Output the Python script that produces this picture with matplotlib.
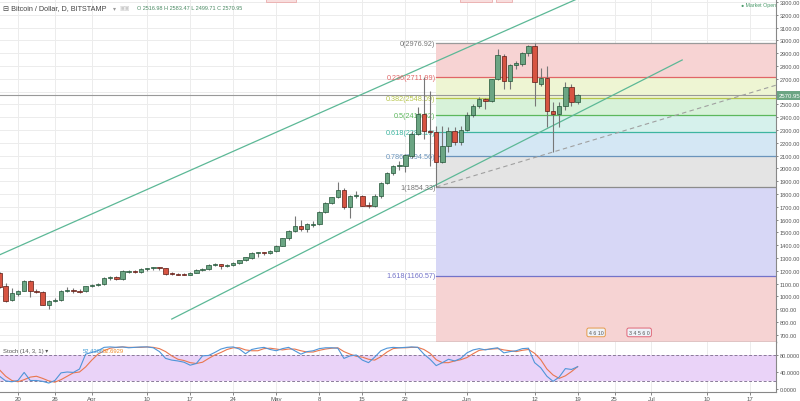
import matplotlib
matplotlib.use('Agg')
import matplotlib.pyplot as plt
import matplotlib.dates as mdates
from matplotlib.patches import Rectangle
import numpy as np
import pandas as pd

plt.rcParams['font.family'] = ['Liberation Sans', 'DejaVu Sans']

# ---------------- data ----------------
dates = pd.date_range('2017-03-17', '2017-06-19', freq='D')

opens = [1180, 1081, 972, 1019, 1043, 1121, 1043, 1035, 935, 964,
         975, 1045, 1048, 1042, 1040, 1080, 1088, 1095, 1145, 1148,
         1135, 1195, 1200, 1192, 1212, 1218, 1226, 1220, 1178, 1175,
         1173, 1170, 1185, 1208, 1214, 1245, 1250, 1240, 1245, 1260,
         1282, 1300, 1338, 1342, 1340, 1355, 1395, 1455, 1510, 1550,
         1523, 1562, 1567, 1659, 1730, 1777, 1834, 1699, 1785, 1787,
         1712, 1710, 1787, 1885, 1964, 2020, 2022, 2100, 2268, 2425,
         2290, 2282, 2050, 2178, 2295, 2206, 2303, 2417, 2490, 2542,
         2530, 2698, 2880, 2680, 2808, 2816, 2902, 2954, 2659, 2706,
         2451, 2425, 2490, 2636, 2516.98]
highs = [1190, 1105, 1065, 1050, 1125, 1125, 1060, 1040, 975, 990,
         1050, 1075, 1065, 1055, 1085, 1095, 1105, 1150, 1160, 1160,
         1210, 1210, 1210, 1218, 1222, 1230, 1230, 1225, 1190, 1185,
         1185, 1190, 1215, 1220, 1250, 1260, 1255, 1255, 1265, 1285,
         1310, 1345, 1350, 1350, 1360, 1400, 1460, 1515, 1630, 1600,
         1570, 1590, 1670, 1740, 1780, 1896, 1845, 1795, 1820, 1795,
         1740, 1800, 1890, 1970, 2030, 2060, 2110, 2290, 2480, 2714,
         2607, 2330, 2330, 2320, 2320, 2330, 2440, 2500, 2560, 2550,
         2700, 2933, 2890, 2815, 2840, 2910, 2965, 2976.92, 2784, 2798,
         2521, 2520, 2677, 2660, 2583.47]
lows = [1065, 955, 965, 1005, 1040, 995, 1025, 930, 905, 955,
        965, 1035, 1030, 1025, 1038, 1075, 1080, 1090, 1125, 1125,
        1130, 1180, 1185, 1185, 1200, 1210, 1210, 1170, 1165, 1168,
        1165, 1165, 1180, 1195, 1210, 1235, 1215, 1230, 1240, 1250,
        1278, 1295, 1310, 1325, 1330, 1350, 1390, 1440, 1500, 1510,
        1500, 1545, 1560, 1650, 1720, 1765, 1680, 1612, 1770, 1705,
        1690, 1700, 1770, 1880, 1950, 1990, 1972, 2080, 2260, 2230,
        2022, 1854.33, 2040, 2130, 2180, 2185, 2290, 2400, 2470, 2464,
        2520, 2690, 2620, 2620, 2780, 2800, 2880, 2490, 2640, 2323,
        2128, 2323, 2460, 2490, 2499.71]
closes = [1075, 964, 1027, 1043, 1121, 1043, 1035, 935, 964, 975,
          1045, 1048, 1042, 1038, 1080, 1088, 1095, 1145, 1148, 1135,
          1200, 1200, 1192, 1212, 1218, 1226, 1220, 1178, 1175, 1173,
          1170, 1185, 1208, 1214, 1245, 1250, 1240, 1245, 1260, 1282,
          1305, 1338, 1342, 1340, 1355, 1395, 1455, 1510, 1550, 1525,
          1565, 1567, 1659, 1730, 1777, 1834, 1699, 1785, 1792, 1709,
          1708, 1787, 1885, 1964, 2022, 2025, 2104, 2268, 2425, 2295,
          2282, 2050, 2178, 2295, 2210, 2303, 2417, 2490, 2542, 2530,
          2698, 2885, 2685, 2808, 2823, 2902, 2954, 2672, 2706, 2451,
          2425, 2487, 2636, 2518, 2570.95]

stoch_k = [30, 19, 17, 20, 39, 20, 20, 18, 14, 20,
           38, 40, 39, 47, 82, 86, 90, 98, 99, 98,
           99, 97, 98, 99, 99, 97, 88, 72, 68, 66,
           63, 56, 60, 78, 79, 86, 94, 98, 99, 94,
           83, 93, 96, 98, 93, 90, 95, 98, 90, 82,
           88, 90, 95, 97, 97, 96, 72, 78, 80, 68,
           62, 75, 90, 96, 98, 97, 98, 99, 98, 82,
           70, 55, 62, 70, 66, 72, 85, 92, 95, 92,
           95, 97, 85, 88, 90, 95, 96, 62, 50, 30,
           18, 28, 48, 46, 52.4366]
stoch_d = [45, 30, 20, 17, 22, 28, 30, 25, 19, 16,
           22, 30, 38, 40, 52, 68, 82, 90, 96, 98,
           99, 98, 98, 98, 99, 98, 95, 88, 78, 70,
           67, 62, 60, 63, 72, 80, 86, 93, 97, 97,
           92, 90, 90, 95, 96, 94, 92, 94, 94, 90,
           87, 87, 91, 94, 96, 97, 88, 82, 77, 75,
           70, 68, 76, 87, 95, 97, 97, 98, 98, 93,
           84, 69, 62, 62, 66, 69, 74, 83, 91, 93,
           94, 95, 92, 90, 88, 91, 93, 84, 69, 47,
           33, 25, 31, 41, 52.6929]

fib_ratios = [0, 0.236, 0.382, 0.5, 0.618, 0.786, 1, 1.618, 2.618]
fib_high = 2976.92
fib_low = 1854.33
fib_start = '2017-05-27'
fib_fills = ['#f7d3d3', '#eef5d3', '#d7f2d9', '#d6f1ec', '#d4e7f4',
             '#e4e4e4', '#d7d7f6', '#f6d3d3']
fib_lines = ['#9a9a9a', '#e06666', '#b6c54a', '#5cb85c', '#3db5a0',
             '#6a94bb', '#8c8c8c', '#7373c9', '#e06666']

# drawing-tool anchors (date, price)
upper_line = [('2017-03-15', 1282), ('2017-06-20', 3347)]
lower_line = [('2017-04-14', 823), ('2017-07-06', 2847)]
dashed_line = [('2017-05-27', 1854.33), ('2017-06-15', 2128)]

events = [('2017-06-22', '4 6 10', '#e69a4a'), ('2017-06-29', '3 4 5 6 0', '#e06677')]

x_ticks = ['2017-03-20', '2017-03-26', '2017-04-01', '2017-04-10', '2017-04-17',
           '2017-04-24', '2017-05-01', '2017-05-08', '2017-05-15', '2017-05-22',
           '2017-06-01', '2017-06-12', '2017-06-19', '2017-06-25', '2017-07-01',
           '2017-07-10', '2017-07-17']
x_tick_labels = ['20', '26', 'Apr', '10', '17', '24', 'May', '8', '15', '22',
                 'Jun', '12', '19', '25', 'Jul', '10', '17']
price_ticks = list(range(700, 3301, 100))
stoch_ticks = [0, 40, 80]

# ---------------- figure ----------------
W, H = 800, 402
fig = plt.figure(figsize=(W / 100, H / 100), dpi=100)
fig.patch.set_facecolor('white')

def fx(px):
    return px / W

def fy(py):
    return 1 - py / H

ax = fig.add_axes([0, fy(343), fx(776), 343 / H])
ax2 = fig.add_axes([0, fy(393), fx(776), 50 / H], sharex=ax)

xd = mdates.date2num(dates.to_pydatetime())
px_per_day = 6.15
left = mdates.date2num(pd.Timestamp('2017-03-20').to_pydatetime()) - 18 / px_per_day
right = left + 776 / px_per_day
ax.set_xlim(left, right)
ax.set_ylim(3300 - 340 * 7.8125, 3300 + 3 * 7.8125)
ax2.set_ylim(-7.06, 110.6)

grid_c = '#ececec'
tick_nums = mdates.date2num(pd.to_datetime(x_ticks).to_pydatetime())
for a in (ax, ax2):
    for t in tick_nums:
        a.axvline(t, color=grid_c, lw=0.7, zorder=0)
for p in price_ticks:
    ax.axhline(p, color=grid_c, lw=0.7, zorder=0)

# fib retracement
fs = mdates.date2num(pd.Timestamp(fib_start).to_pydatetime())
levels = [fib_high - r * (fib_high - fib_low) for r in fib_ratios]
for i in range(len(levels) - 1):
    ax.fill_between([fs, right], levels[i + 1], levels[i], color=fib_fills[i],
                    zorder=1, lw=0)
for i, (r, lv) in enumerate(zip(fib_ratios, levels)):
    if lv < ax.get_ylim()[0]:
        continue
    ax.plot([fs, right], [lv, lv], color=fib_lines[i], lw=0.9, zorder=2)
    lab = f'{r:g}({lv:.2f})'
    ax.text(fs - 0.1, lv, lab, ha='right', va='center', fontsize=5.2,
            color=fib_lines[i] if r not in (0, 1) else '#777777', zorder=3.5)

# current price line
ax.axhline(closes[-1], color='#999999', lw=0.8, zorder=2)

# trend lines
def seg(pts):
    xs = [mdates.date2num(pd.Timestamp(d).to_pydatetime()) for d, _ in pts]
    ys = [p for _, p in pts]
    return xs, ys

chan_c = '#5cb896'
xs, ys = seg(upper_line)
ax.plot(xs, ys, color=chan_c, lw=0.9, zorder=3)
xs, ys = seg(lower_line)
ax.plot(xs, ys, color=chan_c, lw=0.9, zorder=3)
xs, ys = seg(dashed_line)
slope = (ys[1] - ys[0]) / (xs[1] - xs[0])
ax.plot([xs[0], right], [ys[0], ys[0] + slope * (right - xs[0])],
        color='#a0a0a0', lw=0.8, ls=(0, (4, 3)), zorder=3)

# candles
o = np.array(opens, float)
c = np.array(closes, float)
h = np.array(highs, float)
l = np.array(lows, float)
up = c >= o
small = np.abs(c - o) < 8
body_h = np.where(small, 8, np.abs(c - o))
body_b = np.where(small, (o + c) / 2 - 4, np.minimum(o, c))
ax.vlines(xd, l, h, color='#777777', lw=0.8, zorder=4)
ax.bar(xd[up], body_h[up], bottom=body_b[up], width=0.72, color='#6ba583',
       edgecolor='#225437', lw=0.5, zorder=5)
ax.bar(xd[~up], body_h[~up], bottom=body_b[~up], width=0.72, color='#d75442',
       edgecolor='#5b1a13', lw=0.5, zorder=5)

# event markers at bottom of price pane
for d, txt, ec in events:
    ax.text(mdates.date2num(pd.Timestamp(d).to_pydatetime()), 0.028, txt,
            transform=ax.get_xaxis_transform(), fontsize=3.8, color='#555555',
            ha='center', va='center', zorder=7,
            bbox=dict(boxstyle='round,pad=0.35', fc='#eef2f8', ec=ec, lw=0.7))

# partial labels at top edge
for x0, w in ((266, 30), (460, 32), (496, 16)):
    fig.patches.append(Rectangle((fx(x0), fy(3)), fx(w), 3 / H, transform=fig.transFigure,
                                 fc='#f8dede', ec='#e8a0a0', lw=0.5, figure=fig))

# axes styling main
ax.yaxis.tick_right()
ax.set_yticks(price_ticks)
ax.set_yticklabels([f'{p:.2f}' for p in price_ticks])
ax.tick_params(axis='y', labelsize=4.1, colors='#555555', length=1.5, width=0.5, pad=1)
ax.tick_params(axis='x', bottom=False, labelbottom=False)
for s in ('top', 'left'):
    ax.spines[s].set_visible(False)
ax.spines['right'].set_color('#888888')
ax.spines['right'].set_linewidth(0.8)
ax.spines['bottom'].set_color('#888888')
ax.spines['bottom'].set_linewidth(1.0)

# price label box
ax.text(1.003, closes[-1], f'{closes[-1]:.2f}', transform=ax.get_yaxis_transform(),
        ha='left', va='center', fontsize=4.3, color='white', zorder=10,
        bbox=dict(boxstyle='square,pad=0.3', fc='#6ba583', ec='none'), clip_on=False)

# title
fig.text(fx(3), fy(9), '\u229f Bitcoin / Dollar, D, BITSTAMP', fontsize=5.2,
         color='#444444', va='center', ha='left')
fig.text(fx(113), fy(9), '\u25be', fontsize=4.3, color='#999999', va='center')
fig.text(fx(120), fy(9), '\u25a3\u25a3', fontsize=4, color='#cccccc', va='center')
fig.text(fx(137), fy(9), 'O 2516.98 H 2583.47 L 2499.71 C 2570.95', fontsize=4.0,
         color='#4a8a63', va='center', ha='left')
fig.text(fx(741), fy(5), '\u25cf Market Open', fontsize=3.8, color='#4a9a6a',
         va='center', ha='left')

# stoch panel
ax2.axhspan(20, 80, color='#ead3f8', zorder=1, lw=0)
for v in (20, 80):
    ax2.axhline(v, color='#8a7a99', lw=0.7, ls=(0, (3, 2)), zorder=2)
ax2.plot(xd, stoch_d, color='#e9774f', lw=0.8, zorder=3)
ax2.plot(xd, stoch_k, color='#4f95d8', lw=0.8, zorder=4)
ax2.yaxis.tick_right()
ax2.set_yticks(stoch_ticks)
ax2.set_yticklabels([f'{v:.4f}' for v in stoch_ticks])
ax2.tick_params(axis='y', labelsize=4.0, colors='#555555', length=1.5, width=0.5, pad=1)
ax2.set_xticks(tick_nums)
ax2.set_xticklabels(x_tick_labels)
ax2.tick_params(axis='x', labelsize=4.4, colors='#555555', length=2, width=0.5, pad=1.2)
for s in ('top', 'left'):
    ax2.spines[s].set_visible(False)
for s in ('right', 'bottom'):
    ax2.spines[s].set_color('#888888')
    ax2.spines[s].set_linewidth(0.8)
ax2.text(0.004, 0.83, 'Stoch (14, 3, 1) \u25be', transform=ax2.transAxes, fontsize=4.2,
         color='#555555', va='center', ha='left')
ax2.text(83 / 776, 0.83, '52.4366', transform=ax2.transAxes, fontsize=4.2,
         color='#3d9bd5', va='center', ha='left')
ax2.text(103 / 776, 0.83, '52.6929', transform=ax2.transAxes, fontsize=4.2,
         color='#ee8a2a', va='center', ha='left')

fig.savefig('out.png', dpi=100, facecolor='white')
